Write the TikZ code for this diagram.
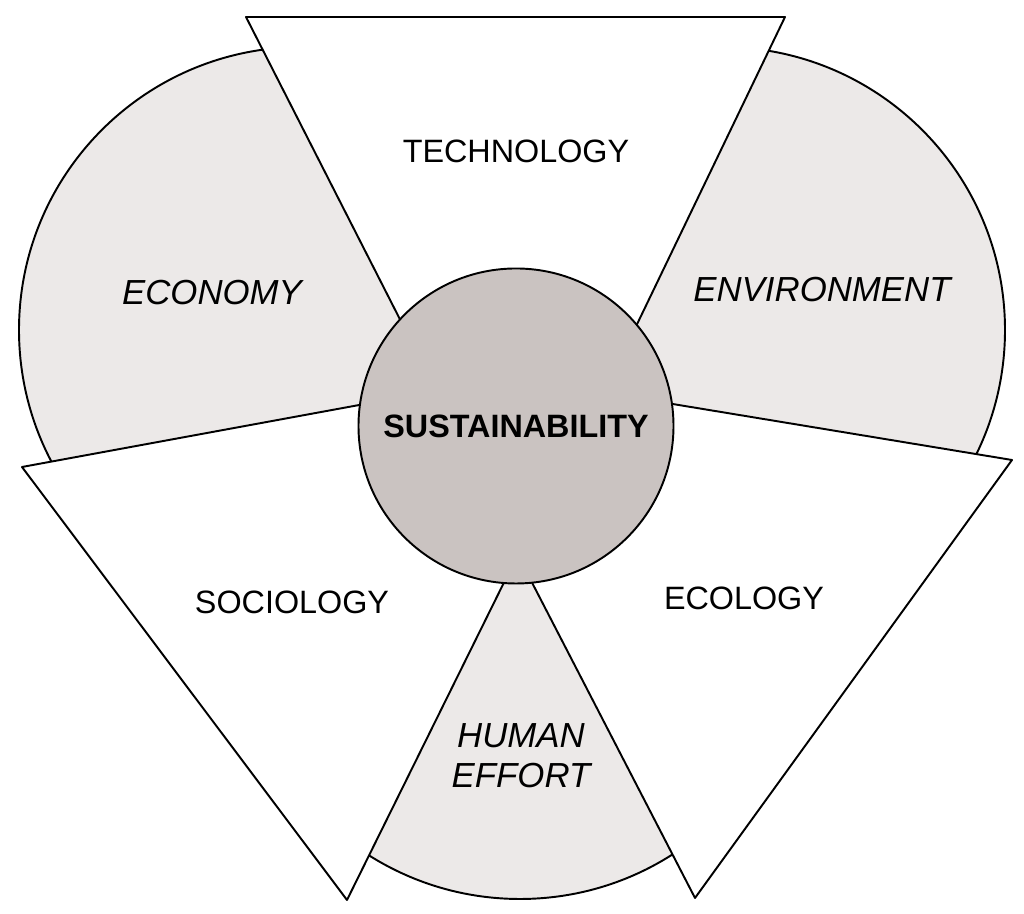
\documentclass[tikz,border=0pt]{standalone}
\usepackage{fontspec}
\setmainfont{Liberation Sans}
\usetikzlibrary{calc}
\definecolor{sectorgray}{RGB}{236,233,232}
\definecolor{coregray}{RGB}{202,195,193}

\begin{document}
\begin{tikzpicture}[x=0.2mm,y=0.2mm,
  outline/.style={draw=black,line width=1.1pt,line join=round},
  sector/.style={outline,fill=sectorgray},
  wedge/.style={outline,fill=white},
  core/.style={outline,fill=coregray,circle,minimum size=63mm,inner sep=0pt,
    font=\fontsize{18.4}{21}\selectfont\bfseries},
  plainlabel/.style={font=\fontsize{18.4}{21}\selectfont},
  slantlabel/.style={font=\fontsize{19.8}{22.7}\selectfont\itshape,align=center}]
\useasboundingbox (0,0) rectangle (1024,914);

\coordinate (c) at (516,488);
\coordinate (t0) at (523,353); \coordinate (t1) at (246,897); \coordinate (t2) at (785,897);
\coordinate (l0) at (615,556); \coordinate (l1) at (22,447);  \coordinate (l2) at (347,14);
\coordinate (r0) at (418,552); \coordinate (r1) at (1012,454); \coordinate (r2) at (695,16);

\coordinate (wl) at (intersection of t0--t1 and l0--l1);
\coordinate (wr) at (intersection of t0--t2 and r0--r1);
\coordinate (wb) at (intersection of l0--l2 and r0--r2);

\begin{scope}
  \clip (wl) -- ($(wl)!2!(t1)$) -- ($(wl)!2!(l1)$) -- cycle;
  \draw[sector] (302,584) circle (283);
\end{scope}
\begin{scope}
  \clip (wr) -- ($(wr)!2!(t2)$) -- ($(wr)!2!(r1)$) -- cycle;
  \draw[sector] (722,584) circle (283);
\end{scope}
\begin{scope}
  \clip (wb) -- ($(wb)!2!(l2)$) -- ($(wb)!2!(r2)$) -- cycle;
  \draw[sector] (520,298) circle (283);
\end{scope}

\draw[wedge] (t0) -- (t1) -- (t2) -- cycle;
\draw[wedge] (l0) -- (l1) -- (l2) -- cycle;
\draw[wedge] (r0) -- (r1) -- (r2) -- cycle;

\node[core] (sust) at (c) {SUSTAINABILITY};

\node[plainlabel] (tech) at (516,763) {TECHNOLOGY};
\node[plainlabel] (soc) at (292,312) {SOCIOLOGY};
\node[plainlabel] (eco) at (744,316) {ECOLOGY};
\node[slantlabel] (econ) at (212,621) {ECONOMY};
\node[slantlabel] (env) at (822,624) {ENVIRONMENT};
\node[slantlabel] (human) at (521,158) {HUMAN\\EFFORT};

\end{tikzpicture}
\end{document}
